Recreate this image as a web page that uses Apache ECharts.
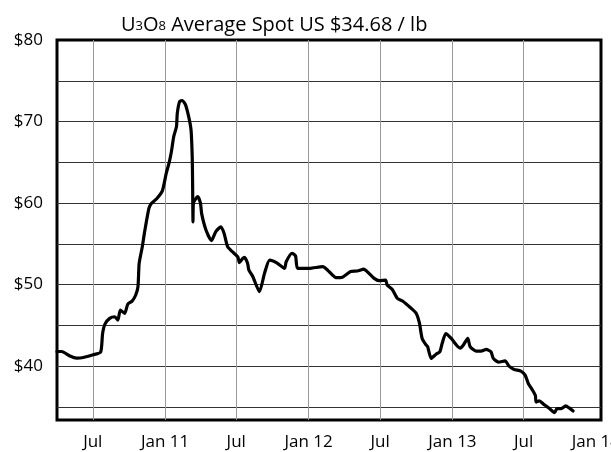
<!DOCTYPE html>
<html>
<head>
<meta charset="utf-8">
<script src="https://cdn.jsdelivr.net/npm/echarts@6/dist/echarts.min.js"></script>
<style>
html, body { margin: 0; padding: 0; background: #fff; }
#chart { width: 611px; height: 452px; }
</style>
</head>
<body>
<div id="chart"></div>
<script>
// spot price readings (US$/lb)
const dates = [
  '2010-04-01', '2010-04-13', '2010-05-04', '2010-05-21', '2010-06-07', '2010-07-02',
  '2010-07-21', '2010-07-26', '2010-08-01', '2010-08-13', '2010-08-26', '2010-09-03',
  '2010-09-09', '2010-09-20', '2010-09-28', '2010-10-09', '2010-10-18', '2010-10-24',
  '2010-10-27', '2010-11-04', '2010-11-10', '2010-11-21', '2010-11-28', '2010-12-10',
  '2010-12-25', '2011-01-04', '2011-01-11', '2011-01-17', '2011-01-23', '2011-01-30',
  '2011-02-01', '2011-02-07', '2011-02-14', '2011-02-22', '2011-03-02', '2011-03-08',
  '2011-03-11', '2011-03-12', '2011-03-13', '2011-03-14', '2011-03-25', '2011-04-01',
  '2011-04-04', '2011-04-15', '2011-04-29', '2011-05-10', '2011-05-23', '2011-05-31',
  '2011-06-09', '2011-06-21', '2011-07-05', '2011-07-09', '2011-07-17', '2011-07-22',
  '2011-07-30', '2011-08-02', '2011-08-12', '2011-08-29', '2011-09-11', '2011-09-24',
  '2011-10-11', '2011-11-01', '2011-11-05', '2011-11-20', '2011-11-29', '2011-12-04',
  '2012-01-03', '2012-02-06', '2012-02-18', '2012-03-11', '2012-03-27', '2012-04-17',
  '2012-05-04', '2012-05-21', '2012-05-29', '2012-06-15', '2012-06-28', '2012-07-15',
  '2012-07-19', '2012-08-01', '2012-08-14', '2012-08-27', '2012-09-18', '2012-10-01',
  '2012-10-09', '2012-10-16', '2012-10-26', '2012-10-30', '2012-11-08', '2012-11-21',
  '2012-11-30', '2012-12-06', '2012-12-15', '2012-12-29', '2013-01-11', '2013-01-21',
  '2013-01-29', '2013-02-09', '2013-02-15', '2013-03-02', '2013-03-15', '2013-03-28',
  '2013-04-09', '2013-04-15', '2013-04-28', '2013-05-15', '2013-05-25', '2013-06-07',
  '2013-06-24', '2013-07-05', '2013-07-13', '2013-07-24', '2013-07-31', '2013-08-02',
  '2013-08-10', '2013-08-21', '2013-09-05', '2013-09-18', '2013-09-24', '2013-10-05',
  '2013-10-16', '2013-10-25', '2013-11-04'
];
const prices = [
  41.8, 41.8, 41.25, 41.0, 41.07, 41.4,
  41.72, 44.0, 45.16, 45.86, 46.06, 45.65,
  46.88, 46.47, 47.6, 47.98, 48.7, 49.74,
  52.6, 54.65, 56.5, 59.37, 60.0, 60.5,
  61.5, 63.67, 64.9, 66.3, 68.16, 69.4,
  71.0, 72.46, 72.58, 72.05, 70.6, 68.98,
  65.7, 62.4, 57.7, 60.0, 60.8, 60.0,
  58.7, 56.7, 55.4, 56.5, 57.1, 56.3,
  54.65, 54.04, 53.4, 52.7, 53.2, 53.35,
  52.6, 51.8, 51.0, 49.13, 51.4, 53.0,
  52.7, 52.0, 52.8, 53.85, 53.5, 52.0,
  52.0, 52.2, 51.8, 50.85, 50.9, 51.6,
  51.67, 51.9, 51.6, 50.8, 50.5, 50.56,
  49.95, 49.4, 48.3, 48.0, 47.1, 46.47,
  45.3, 43.4, 42.6, 42.4, 40.95, 41.5,
  41.76, 42.8, 44.0, 43.4, 42.6, 42.2,
  42.6, 43.4, 42.4, 41.85, 41.85, 42.05,
  41.76, 40.95, 40.5, 40.65, 40.0, 39.6,
  39.4, 38.9, 37.88, 37.05, 36.4, 35.6,
  35.74, 35.34, 34.8, 34.3, 34.8, 34.8,
  35.13, 34.88, 34.5
];

// axis marks
const xGridDates = ['2010-07-01', '2011-01-01', '2011-07-01', '2012-01-01', '2012-07-01', '2013-01-01', '2013-07-01'];
const xLabelDates = xGridDates.concat(['2014-01-01']);
const yGridValues = [35, 40, 45, 50, 55, 60, 65, 70, 75];
const yLabelValues = [40, 50, 60, 70, 80];

const toTime = s => new Date(s + 'T00:00:00').getTime();

let myChart = echarts.init(document.getElementById('chart'));
let option;

option = {
  animation: false,
  backgroundColor: '#fff',
  title: {
    text: '{n|U}{s|3}{n|O}{s|8}{n| Average Spot US $34.68 / lb}',
    left: 116,
    top: 5,
    textStyle: {
      fontWeight: 'normal',
      rich: {
        n: { fontFamily: 'Open Sans', fontSize: 20, fontWeight: 'normal', color: '#000', lineHeight: 25, verticalAlign: 'bottom' },
        s: { fontFamily: 'Open Sans', fontSize: 13, fontWeight: 'normal', color: '#000', lineHeight: 25, verticalAlign: 'bottom', padding: [0, 0, 2, 0] }
      }
    }
  },
  grid: {
    left: 57,
    right: 10,
    top: 40,
    bottom: 32,
    outerBoundsMode: 'none',
    show: true,
    borderColor: '#000',
    borderWidth: 3
  },
  xAxis: {
    type: 'value',
    min: toTime('2010-04-01'),
    max: toTime('2014-01-14'),
    axisLine: { show: false },
    axisTick: { show: false, customValues: xGridDates.map(toTime) },
    splitLine: { show: true, lineStyle: { color: '#999', width: 1 } },
    axisLabel: {
      customValues: xLabelDates.map(toTime),
      margin: 14,
      fontFamily: 'Open Sans',
      fontSize: 17,
      color: '#000',
      formatter: function (val) {
        let d = new Date(val);
        return d.getMonth() === 6 ? 'Jul' : 'Jan ' + String(d.getFullYear()).slice(2);
      }
    }
  },
  yAxis: {
    type: 'value',
    min: 33.4,
    max: 80,
    axisLine: { show: false },
    axisTick: { show: false, customValues: yGridValues },
    splitLine: { show: true, lineStyle: { color: '#333', width: 1 } },
    axisLabel: {
      customValues: yLabelValues,
      margin: 14,
      fontFamily: 'Open Sans',
      fontSize: 17,
      color: '#000',
      formatter: v => '$' + v
    }
  },
  series: [
    {
      type: 'line',
      data: dates.map((d, i) => [toTime(d), prices[i]]),
      showSymbol: false,
      smooth: 0.2,
      lineStyle: { color: '#000', width: 3.2, join: 'round', cap: 'round' }
    }
  ]
};

option && myChart.setOption(option);
</script>
</body>
</html>
